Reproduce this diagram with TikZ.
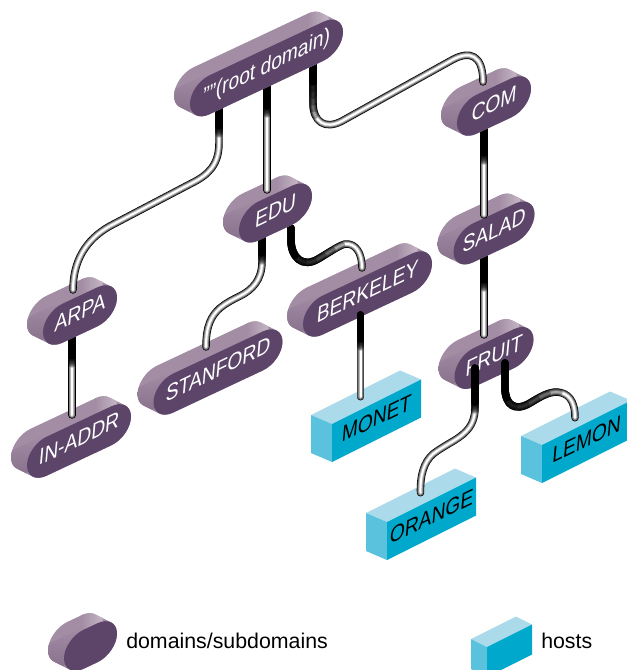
\documentclass[tikz,border=0pt]{standalone}
\usepackage{fontspec}
\setmainfont{Liberation Sans}
\usetikzlibrary{calc}
\definecolor{dfront}{HTML}{5C4569}
\definecolor{dtop}{HTML}{A38DA5}
\definecolor{ddark}{HTML}{836C87}
\definecolor{dlight}{HTML}{CBBFCB}
\definecolor{dright}{HTML}{C4B6C4}
\definecolor{hfront}{HTML}{00A9CC}
\definecolor{hleft}{HTML}{5BC2DD}
\definecolor{htop}{HTML}{ABDBEA}
\tikzset{
  isotext/.style={inner sep=0pt,text height=.72em,text depth=0pt,font=\fontsize{15.5pt}{18pt}\selectfont,cm={.93,.45,.1,1.12,(0,0)}},
  tubeline/.style={line cap=round,line join=round},
  legendtext/.style={inner sep=0pt,anchor=west,text=black,font=\fontsize{16pt}{19pt}\selectfont}
}
\newcommand\stadpath[3]{% half length, offset x, offset y
  ({-(#1)+(#2)},{-19.5+(#3)}) -- ({(#1)+(#2)},{-19.5+(#3)})
  .. controls ({(#1)+10.77+(#2)},{-19.5+(#3)}) and ({(#1)+19.5+(#2)},{-10.77+(#3)}) .. ({(#1)+19.5+(#2)},{#3})
  .. controls ({(#1)+19.5+(#2)},{10.77+(#3)}) and ({(#1)+10.77+(#2)},{19.5+(#3)}) .. ({(#1)+(#2)},{19.5+(#3)})
  -- ({-(#1)+(#2)},{19.5+(#3)})
  .. controls ({-(#1)-10.77+(#2)},{19.5+(#3)}) and ({-(#1)-19.5+(#2)},{10.77+(#3)}) .. ({-(#1)-19.5+(#2)},{#3})
  .. controls ({-(#1)-19.5+(#2)},{-10.77+(#3)}) and ({-(#1)-10.77+(#2)},{-19.5+(#3)}) .. ({-(#1)+(#2)},{-19.5+(#3)}) -- cycle
}
\newcommand\hullpoly[1]{%
  ({(#1)+13.55-16},{-13.98-15.5}) -- ({(#1)+13.55},-13.98) -- ({-(#1)-13.55},13.98) -- ({-(#1)-13.55-16},{13.98-15.5}) -- cycle
}
% name, half length of the straight part, text
\newcommand\domain[3]{%
  \begin{scope}[shift={(#1)},cm={1,.47,0,1,(0,0)}]
    \begin{scope}
      \clip \stadpath{#2}{0}{0} \stadpath{#2}{-16}{-15.5} \hullpoly{#2};
      \fill[dtop] ({-(#2)-45},-45) rectangle ({(#2)+45},45);
      \shade[top color=dtop,bottom color=ddark] ({-(#2)-40},-22) rectangle ({-(#2)-1},7);
      \shade[top color=ddark,bottom color=dlight] ({-(#2)-40},6.9) rectangle ({-(#2)-1},17);
      \fill[dlight] ({-(#2)-40},16.9) rectangle ({-(#2)-1},45);
      \shade[left color=dtop,right color=dright] ({(#2)-16},-45) rectangle ({(#2)+5},45);
    \end{scope}
    \fill[dfront] \stadpath{#2}{0}{0};
  \end{scope}
  \node[isotext,text=white] (#1-label) at (#1) {#3};
}
% name, width, height, depth x, depth y, text
\newcommand\host[6]{%
  \begin{scope}[shift={(#1)}]
    \fill[htop] ({-(#2)/2},{(#2)/4-(#3)/2}) -- ({(#2)/2},{-(#2)/4-(#3)/2})
      -- ({(#2)/2+(#4)},{-(#2)/4-(#3)/2+(#5)}) -- ({-(#2)/2+(#4)},{(#2)/4-(#3)/2+(#5)}) -- cycle;
    \fill[hleft] ({-(#2)/2},{(#2)/4-(#3)/2}) -- ({-(#2)/2},{(#2)/4+(#3)/2})
      -- ({-(#2)/2+(#4)},{(#2)/4+(#3)/2+(#5)}) -- ({-(#2)/2+(#4)},{(#2)/4-(#3)/2+(#5)}) -- cycle;
    \fill[hfront] ({-(#2)/2},{(#2)/4-(#3)/2}) -- ({(#2)/2},{-(#2)/4-(#3)/2})
      -- ({(#2)/2},{-(#2)/4+(#3)/2}) -- ({-(#2)/2},{(#2)/4+(#3)/2}) -- cycle;
  \end{scope}
  \node[isotext,text=black] (#1-label) at (#1) {#6};
}
% optional fade step in pt, black length in px, path
\newcommand\tube[3][1.2]{%
  \draw[tubeline,black,line width=5.6pt] #3;
  \draw[tubeline,color=black!72,line width=4.7pt] #3;
  \draw[tubeline,color=black!50,line width=3.8pt] #3;
  \draw[tubeline,color=black!28,line width=2.8pt] #3;
  \draw[tubeline,color=white,line width=1.5pt] #3;
  \pgfmathsetmacro\blk{(#2)*.75}
  \draw[tubeline,black,line width=5.6pt,dash pattern=on \blk pt off 3000pt] #3;
  \foreach \stp in {1,...,5}{
    \pgfmathsetmacro\blq{\blk+\stp*(#1)}
    \draw[tubeline,black,line width=5.6pt,opacity=.35,dash pattern=on \blq pt off 3000pt] #3;
  }
}
\begin{document}
\begin{tikzpicture}[x=.75pt,y=-.75pt]
\useasboundingbox (0,0) rectangle (627,670);
\clip (0,0) rectangle (627,670);
\coordinate (root) at (266.5,68);
\coordinate (arpa) at (80,315);
\coordinate (inaddr) at (79,441);
\coordinate (edu) at (275.5,213);
\coordinate (stanford) at (218,372);
\coordinate (berkeley) at (367.5,294);
\coordinate (com) at (494,106);
\coordinate (salad) at (494,233);
\coordinate (fruit) at (494,358);
\coordinate (monet) at (376.5,420.75);
\coordinate (orange) at (431.5,518.75);
\coordinate (lemon) at (586.5,441.75);
\coordinate (legenddomain) at (90.5,646);
\coordinate (legendhost) at (509.5,650.75);

\host{orange}{89}{38}{-21}{-9}{ORANGE}
\host{lemon}{89}{38}{-21}{-9}{LEMON}
\host{monet}{89}{38}{-21}{-9}{MONET}
\domain{fruit}{20}{FRUIT}
\tube{34}{($(fruit)+(-19,10)$) -- (475,408) .. controls (475,425) and (466,433) .. (455,440) .. controls (445,446) and (438,450) .. (433,454) .. controls (424,462) and (420,475) .. ($(orange)+(-11,-26)$)}
\tube[9]{35}{($(fruit)+(11,5)$) -- (505,388) .. controls (505,405) and (515,412) .. (530,403) .. controls (540,397) and (548,392) .. (557,392) .. controls (568,393) and (575,400) .. ($(lemon)+(-11.5,-24)$)}
\tube{30}{($(salad)+(-10,17)$) -- ($(fruit)+(-10,-23)$)}
\domain{salad}{21}{SALAD}
\tube{28}{($(com)+(-10,19)$) -- ($(salad)+(-10,-18)$)}
\domain{com}{17.5}{COM}

\domain{inaddr}{32.5}{IN-ADDR}
\tube{26}{($(arpa)+(-8,15)$) -- ($(inaddr)+(-7,-26)$)}
\domain{arpa}{17.5}{ARPA}

\domain{stanford}{45}{STANFORD}
\domain{berkeley}{45}{BERKELEY}
\tube{24}{($(berkeley)+(-7,21)$) -- ($(monet)+(-16,-24)$)}
\tube{18}{($(edu)+(-13.5,22)$) -- (262,262) .. controls (262,280) and (252,290) .. (240,296) .. controls (232,300) and (226,303) .. (220,308) .. controls (211,316) and (206,326) .. ($(stanford)+(-12,-25)$)}
\tube[8]{28}{($(edu)+(15.5,15)$) -- (291,240) .. controls (291,258) and (303,268) .. (318,259) .. controls (330,252) and (338,246) .. (345,244) .. controls (355,243) and (362,252) .. ($(berkeley)+(-5.5,-26)$)}
\domain{edu}{17}{EDU}

\tube{26}{($(root)+(-47.5,32)$) -- (219,143) .. controls (219,165) and (208,175) .. (192,183) -- (110,226) .. controls (85,240) and (73,262) .. ($(arpa)+(-7,-25)$)}
\tube{26}{($(root)+(.5,12)$) -- ($(edu)+(-8.5,-23)$)}
\tube[5]{22}{($(root)+(46.5,-8)$) -- (313,103) .. controls (313,122) and (325,130) .. (342,121) -- (452,60) .. controls (470,50) and (483,55) .. ($(com)+(-11,-24)$)}
\domain{root}{57}{""(root domain)}

\domain{legenddomain}{7}{}
\host{legendhost}{45}{30}{-16}{-8}{}
\node[legendtext] (legenddomaintext) at (126,641) {domains/subdomains};
\node[legendtext] (legendhosttext) at (541,641) {hosts};
\end{tikzpicture}
\end{document}
